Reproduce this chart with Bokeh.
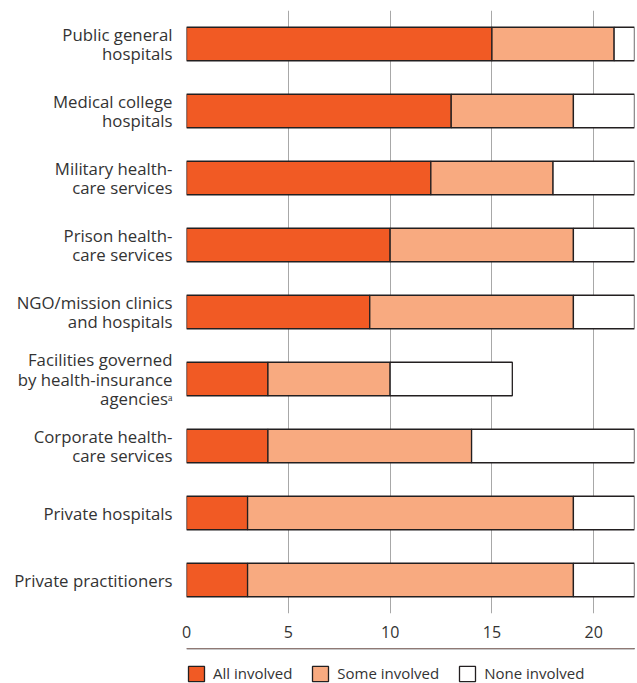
from bokeh.plotting import figure
from bokeh.layouts import column
from bokeh.models import ColumnDataSource, Legend, LegendItem, FactorRange, Range1d, FixedTicker
from bokeh.embed import file_html
from bokeh.resources import INLINE

categories = [
    "Public general\nhospitals",
    "Medical college\nhospitals",
    "Military health-\ncare services",
    "Prison health-\ncare services",
    "NGO/mission clinics\nand hospitals",
    "Facilities governed\nby health-insurance\nagencies\u1d43",
    "Corporate health-\ncare services",
    "Private hospitals",
    "Private practitioners",
]
all_involved = [15, 13, 12, 10, 9, 4, 4, 3, 3]
some_involved = [6, 6, 6, 9, 10, 6, 10, 16, 16]
none_involved = [1, 3, 4, 3, 3, 6, 8, 3, 3]
series_keys = ["all", "some", "none"]
legend_labels = ["All involved", "Some involved", "None involved"]
x_ticks = [0, 5, 10, 15, 20]

colors = ["#F15A24", "#F8AA80", "#FFFFFF"]
OUTLINE = "#231F20"
FONT = "Open Sans"
TEXT = "#333333"

source = ColumnDataSource(dict(cat=categories, all=all_involved,
                               some=some_involved, none=none_involved))

p = figure(width=637, height=648, output_backend="svg", toolbar_location=None,
           y_range=FactorRange(*reversed(categories)), x_range=Range1d(0, 22),
           min_border_left=186, min_border_right=3, min_border_top=10, min_border_bottom=35)

p.hbar_stack(series_keys, y="cat", height=0.5, color=colors, source=source,
             line_color=OUTLINE, line_width=1.3)

p.outline_line_color = None
p.ygrid.grid_line_color = None
p.xgrid.ticker = FixedTicker(ticks=x_ticks)
p.xgrid.grid_line_color = "#A8A8A8"
p.xgrid.grid_line_width = 1
p.xaxis.ticker = FixedTicker(ticks=x_ticks)
p.xaxis.axis_line_color = None
p.xaxis.major_tick_line_color = None
p.xaxis.minor_tick_line_color = None
p.xaxis.major_label_standoff = 6
p.xaxis.major_label_text_font = FONT
p.xaxis.major_label_text_font_size = "16px"
p.xaxis.major_label_text_color = TEXT

p.yaxis.axis_line_color = None
p.yaxis.major_tick_line_color = None
p.yaxis.minor_tick_line_color = None
p.yaxis.major_label_standoff = 8
p.yaxis.major_label_text_font = FONT
p.yaxis.major_label_text_font_size = "16.8px"
p.yaxis.major_label_text_line_height = 0.83
p.yaxis.major_label_text_color = TEXT

# legend in a separate strip below the chart (helper bars lie outside its visible range)
helper = ColumnDataSource(dict(cat=[10], all=[1], some=[1], none=[1]))
lf = figure(width=637, height=35, output_backend="svg", toolbar_location=None,
            x_range=Range1d(0, 1), y_range=Range1d(0, 1), x_axis_type=None, y_axis_type=None,
            min_border_left=0, min_border_right=0, min_border_top=0, min_border_bottom=0)
lf.outline_line_color = None
lf.xgrid.visible = False
lf.ygrid.visible = False
leg_renderers = lf.hbar_stack(series_keys, y="cat", height=0.5, color=colors, source=helper,
                              line_color=OUTLINE, line_width=1.3)

legend = Legend(items=[LegendItem(label=l, renderers=[r]) for l, r in zip(legend_labels, leg_renderers)],
                orientation="horizontal", location=(0, 0))
legend.glyph_width = 20
legend.glyph_height = 19
legend.label_standoff = 7
legend.spacing = 18
legend.padding = 0
legend.margin = 0
legend.border_line_color = None
legend.background_fill_alpha = 0
legend.label_text_font = FONT
legend.label_text_font_size = "15px"
legend.label_text_color = TEXT
legend.label_height = 19
lf.add_layout(legend, "center")

layout = column(p, lf, spacing=0)
open("out.html", "w").write(file_html(layout, INLINE))
